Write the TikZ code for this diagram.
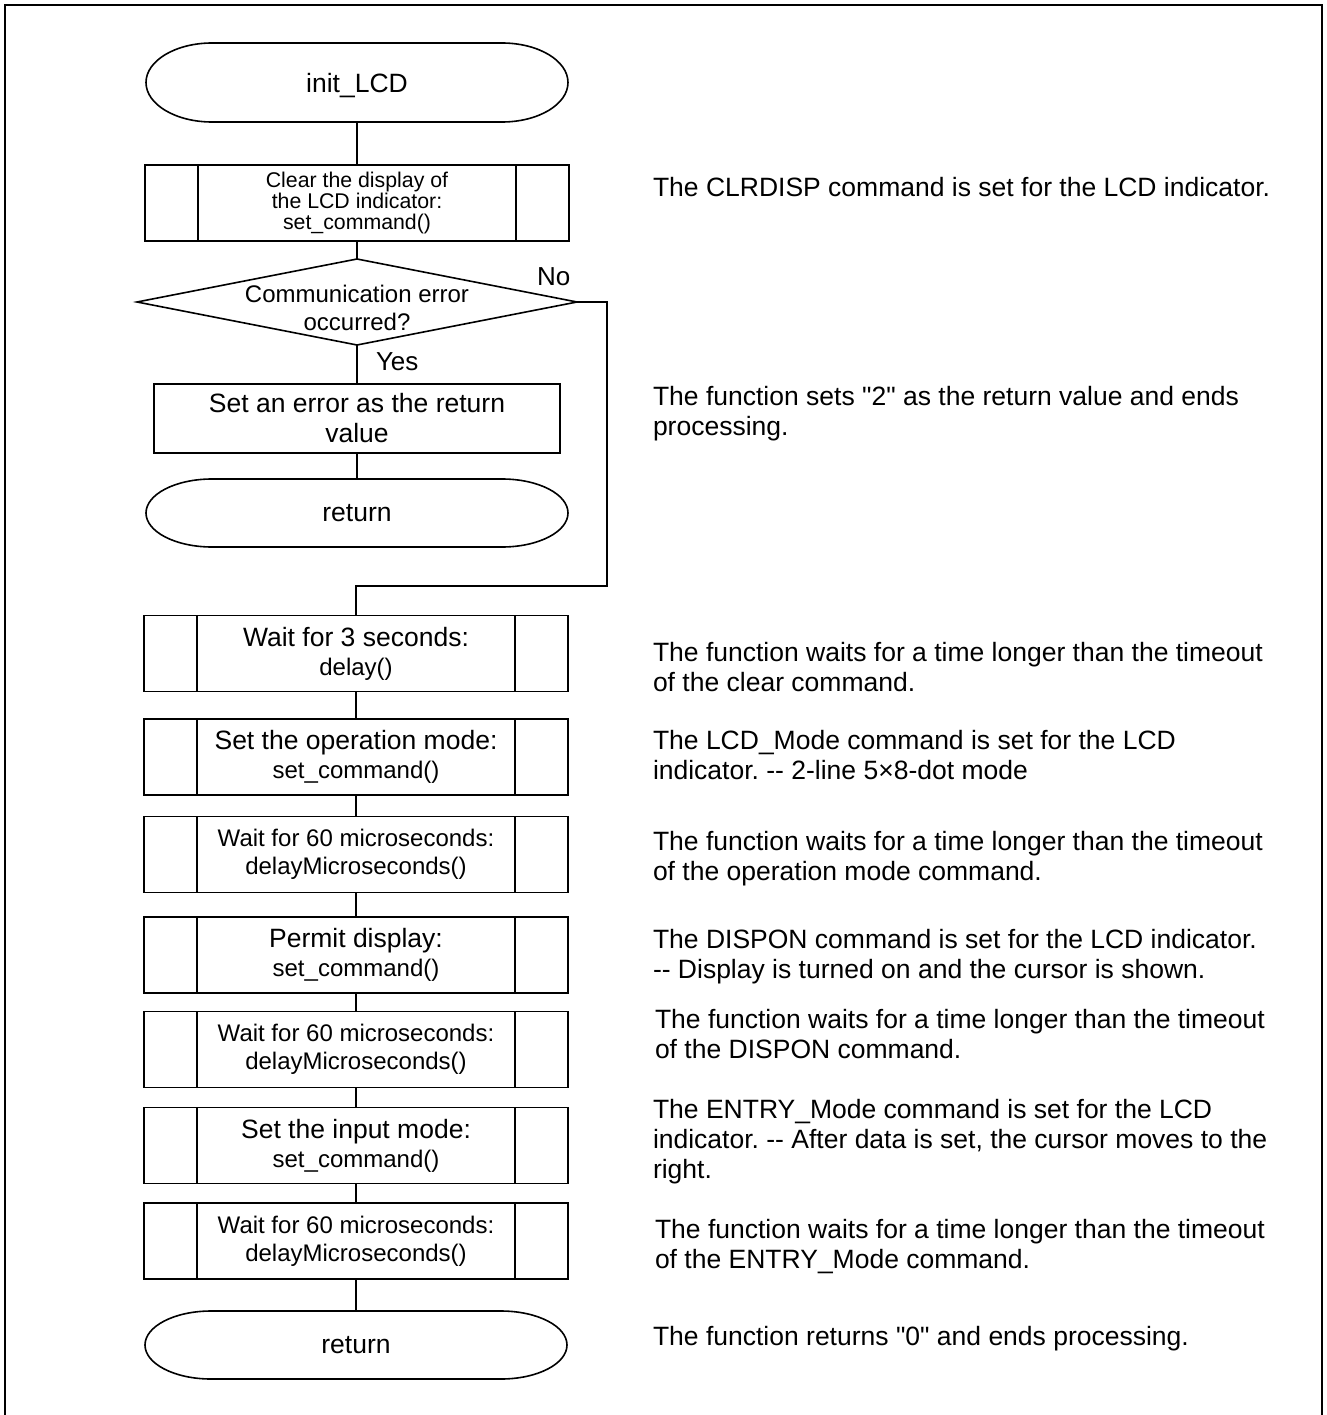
\documentclass[tikz,border=0pt]{standalone}
\usepackage{fontspec}
\newfontfamily\arialfont{Liberation Sans}
\usetikzlibrary{calc}
\frenchspacing
\newcommand{\fbig}{\fontsize{26.5}{29}\selectfont}
\newcommand{\fmid}{\fontsize{24}{28}\selectfont}
\newcommand{\fsml}{\fontsize{21.3}{21}\selectfont}
\newcommand{\fnote}{\fontsize{26.5}{30}\selectfont}
\newcommand{\sidebars}[1]{\draw ([xshift=53pt]#1.north west) -- ([xshift=53pt]#1.south west) ([xshift=-53pt]#1.north east) -- ([xshift=-53pt]#1.south east);}
\newcommand{\termshape}[3]{\draw ([xshift=#2]#1.north west) -- ([xshift=-#2]#1.north east) arc[start angle=90,end angle=-90,x radius=#2,y radius=#3] -- ([xshift=#2]#1.south west) arc[start angle=270,end angle=90,x radius=#2,y radius=#3] -- cycle;}
\begin{document}
\begin{tikzpicture}[x=1pt,y=-1pt,line width=1.6pt,
  every node/.style={font=\arialfont\fbig, inner sep=0pt, outer sep=0pt},
  proc/.style={draw, minimum width=424pt, minimum height=76pt, align=center},
  term/.style={minimum width=422pt, minimum height=68pt},
  plainbox/.style={draw, minimum width=406pt, minimum height=69pt, align=center, font=\arialfont\fnote},
  decbox/.style={minimum width=440pt, minimum height=86pt},
  note/.style={anchor=base west, align=left, font=\arialfont\fnote},
  lbl/.style={anchor=base west, font=\arialfont\fontsize{26}{30}\selectfont},
  midfont/.style={font=\arialfont\fmid}
]
\useasboundingbox (0,0) rectangle (1326,1415);
\draw[line width=2.2pt] (5,1415) -- (5,5) -- (1322,5) -- (1322,1415);

% upper flow
\node[term, minimum height=79pt, text height=25.5pt, text depth=4.7pt] (start) at (357,82.5) {init\_LCD};
\termshape{start}{66pt}{39.5pt}
\node[proc, font=\arialfont\fsml] (clr) at (357,203) {Clear the display of\\the LCD indicator:\\set\_command()};
\sidebars{clr}
\node[decbox] (dec) at (357,302) {};
\draw (dec.north) -- (dec.east) -- (dec.south) -- (dec.west) -- cycle;
\node[midfont, align=center] (dectext) at (357,308) {Communication error\\occurred?};
\node[lbl] (no) at (537,285) {No};
\node[lbl] (yes) at (376,370) {Yes};
\node[plainbox] (err) at (357,418.5) {Set an error as the return\\value};
\node[term] (ret1) at (357,513) {return};
\termshape{ret1}{66pt}{34pt}

% lower flow
\node[proc] (delay) at (356,653.5) {Wait for 3 seconds:\\{\fmid delay()}};
\sidebars{delay}
\node[proc] (opm) at (356,757) {Set the operation mode:\\{\fmid set\_command()}};
\sidebars{opm}
\node[proc, midfont] (w1) at (356,854.5) {Wait for 60 microseconds:\\delayMicroseconds()};
\sidebars{w1}
\node[proc] (perm) at (356,955) {Permit display:\\{\fmid set\_command()}};
\sidebars{perm}
\node[proc, midfont] (w2) at (356,1049.5) {Wait for 60 microseconds:\\delayMicroseconds()};
\sidebars{w2}
\node[proc] (inp) at (356,1145.5) {Set the input mode:\\{\fmid set\_command()}};
\sidebars{inp}
\node[proc, midfont] (w3) at (356,1241) {Wait for 60 microseconds:\\delayMicroseconds()};
\sidebars{w3}
\node[term] (ret2) at (356,1345) {return};
\termshape{ret2}{66pt}{34pt}

% connectors
\draw (start) -- (clr);
\draw (clr) -- (dec);
\draw (dec) -- (err);
\draw (err) -- (ret1);
\coordinate (c1) at (607,302);
\coordinate (c2) at (607,586);
\coordinate (c3) at (356,586);
\draw (dec.east) -- (c1) -- (c2) -- (c3) -- (delay.north);
\draw (delay) -- (opm);
\draw (opm) -- (w1);
\draw (w1) -- (perm);
\draw (perm) -- (w2);
\draw (w2) -- (inp);
\draw (inp) -- (w3);
\draw (w3) -- (ret2);

% notes (base anchor = baseline of the last line)
\node[note] (n1) at (653,197) {The CLRDISP command is set for the LCD indicator.};
\node[note] (n2) at (653,435) {The function sets \symbol{34}2\symbol{34} as the return value and ends\\processing.};
\node[note] (n3) at (653,691) {The function waits for a time longer than the timeout\\of the clear command.};
\node[note] (n4) at (653,779) {The LCD\_Mode command is set for the LCD\\indicator. -{}- 2-line 5×8-dot mode};
\node[note] (n5) at (653,880) {The function waits for a time longer than the timeout\\of the operation mode command.};
\node[note] (n6) at (653,978) {The DISPON command is set for the LCD indicator.\\-{}- Display is turned on and the cursor is shown.};
\node[note] (n7) at (655,1058) {The function waits for a time longer than the timeout\\of the DISPON command.};
\node[note] (n8) at (653,1178) {The ENTRY\_Mode command is set for the LCD\\indicator. -{}- After data is set, the cursor moves to the\\right.};
\node[note] (n9) at (655,1268) {The function waits for a time longer than the timeout\\of the ENTRY\_Mode command.};
\node[note] (n10) at (653,1345) {The function returns \symbol{34}0\symbol{34} and ends processing.};
\end{tikzpicture}
\end{document}
